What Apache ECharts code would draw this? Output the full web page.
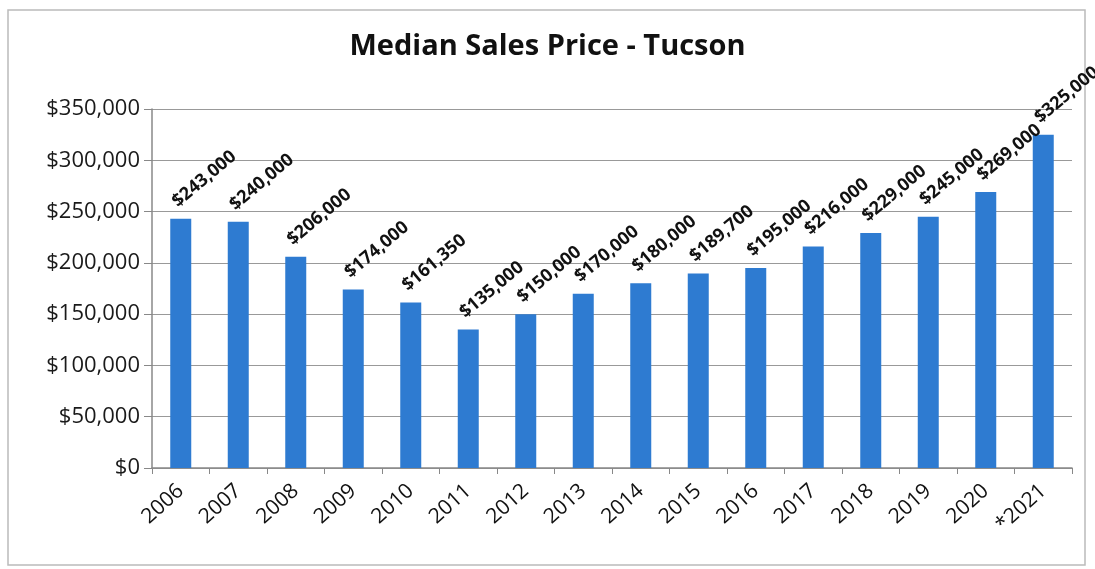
<!DOCTYPE html>
<html>
<head>
<meta charset="utf-8">
<script src="https://cdn.jsdelivr.net/npm/echarts@6/dist/echarts.min.js"></script>
<style>
html, body { margin: 0; padding: 0; background: #fff; }
#chart { width: 1095px; height: 569px; }
</style>
</head>
<body>
<div id="chart"></div>
<script>
var years = ['2006', '2007', '2008', '2009', '2010', '2011', '2012', '2013',
             '2014', '2015', '2016', '2017', '2018', '2019', '2020', '*2021'];
var prices = [243000, 240000, 206000, 174000, 161350, 135000, 150000, 170000,
              180000, 189700, 195000, 216000, 229000, 245000, 269000, 325000];

var myChart = echarts.init(document.getElementById('chart'));

function money(v) {
    return '$' + v.toString().replace(/\B(?=(\d{3})+(?!\d))/g, ',');
}

var option = {
    backgroundColor: '#fff',
    textStyle: { fontFamily: 'Open Sans' },
    title: {
        text: 'Median Sales Price - Tucson',
        left: 'center',
        top: 27,
        textStyle: { fontSize: 29, fontWeight: 'bold', color: '#111', fontFamily: 'Open Sans' }
    },
    graphic: [{
        type: 'rect',
        shape: { x: 8, y: 10, width: 1077, height: 555 },
        style: { fill: 'none', stroke: '#bbb', lineWidth: 1.5 },
        silent: true
    }],
    grid: { left: 152, right: 23, top: 109, bottom: 101 },
    xAxis: {
        type: 'category',
        data: years,
        axisLine: { lineStyle: { color: '#888', width: 1.5 } },
        axisTick: { show: true, alignWithLabel: false, length: 6, lineStyle: { color: '#888' } },
        axisLabel: { rotate: 42, fontSize: 21, color: '#111', margin: 20, interval: 0 }
    },
    yAxis: {
        type: 'value',
        min: 0,
        max: 350000,
        interval: 50000,
        axisLine: { show: true, lineStyle: { color: '#888', width: 1.5 } },
        axisTick: { show: true, length: 8, lineStyle: { color: '#888' } },
        splitLine: { lineStyle: { color: '#999', width: 1.2 } },
        axisLabel: { fontSize: 22, color: '#1a1a1a', margin: 12, formatter: money }
    },
    series: [{
        type: 'bar',
        data: prices,
        barWidth: 21,
        itemStyle: { color: '#2e7bd1' },
        label: {
            show: true,
            position: 'top',
            rotate: 40,
            align: 'left',
            verticalAlign: 'middle',
            distance: 20,
            offset: [-8, 0],
            fontSize: 18,
            fontWeight: 'bold',
            color: '#111',
            formatter: function (p) { return money(p.value); }
        }
    }]
};

myChart.setOption(option, true);
</script>
</body>
</html>
